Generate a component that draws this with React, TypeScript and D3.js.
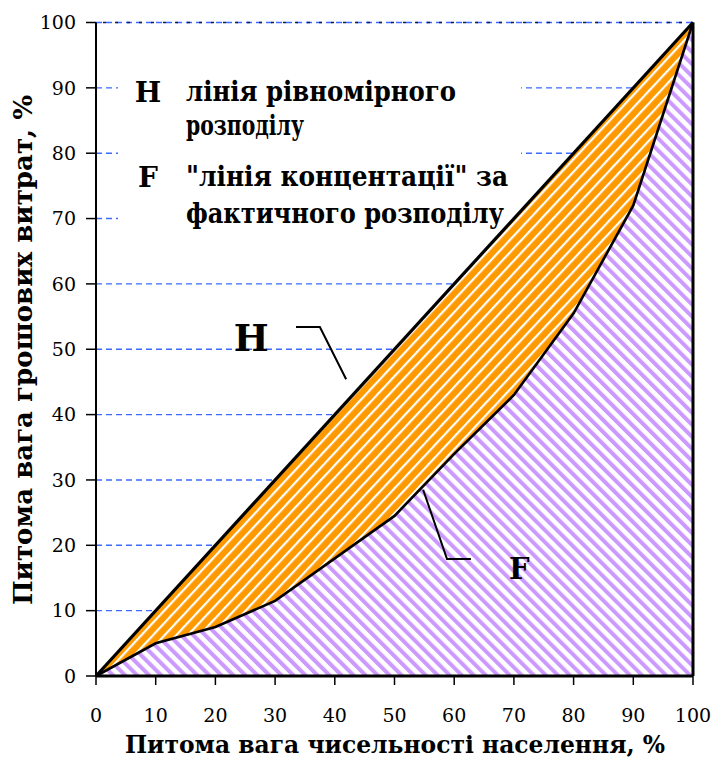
import React from 'react';
import * as d3 from 'd3';

const xTicks = [0, 10, 20, 30, 40, 50, 60, 70, 80, 90, 100];
const yTicks = [0, 10, 20, 30, 40, 50, 60, 70, 80, 90, 100];
const popShare = [0, 10, 20, 30, 40, 50, 60, 70, 80, 90, 100];
const spendShare = [0, 5, 7.5, 11.5, 18, 24.5, 34, 43, 55.5, 72, 100];
const equalX = [0, 100];
const equalY = [0, 100];
const hCallout: [number, number][] = [[33.5, 53.4], [37.5, 53.4], [41.9, 45.4]];
const fCallout: [number, number][] = [[54.8, 28.5], [58.8, 17.9], [62.8, 17.9]];
const hLabelPos: [number, number] = [26, 49.8];
const fLabelPos: [number, number] = [70.9, 14.9];
const legendKeys = ['H', 'F'];
const legendLines = [
  ['лінія рівномірного', 'розподілу'],
  ['"лінія концентації" за', 'фактичного розподілу'],
];
const xTitle = 'Питома вага чисельності населення, %';
const yTitle = 'Питома вага грошових витрат, %';

const W = 713;
const H = 760;
const FONT = '"DejaVu Serif", "Liberation Serif", serif';

export default function App() {
  const x = d3.scaleLinear().domain([0, 100]).range([96, 693]);
  const y = d3.scaleLinear().domain([0, 100]).range([676, 22.5]);

  const fPts: [number, number][] = popShare.map((p, i) => [p, spendShare[i]]);
  const hPts: [number, number][] = equalX.map((p, i) => [p, equalY[i]]);
  const line = d3.line<[number, number]>().x(d => x(d[0])).y(d => y(d[1]));

  const purplePoly: [number, number][] = [...fPts, [100, 0]];
  const orangePoly: [number, number][] = [...hPts, ...fPts.slice().reverse()];

  const legendRows = [
    { key: 0, sub: 0, base: 101, width: 270 },
    { key: 0, sub: 1, base: 135, width: 118 },
    { key: 1, sub: 0, base: 186, width: 322 },
    { key: 1, sub: 1, base: 223, width: 318 },
  ];

  return (
    <svg width={W} height={H} style={{ position: 'absolute', left: 0, top: 0, background: '#fff' }}>
      <defs>
        <pattern id="orangeHatch" patternUnits="userSpaceOnUse" width={8.5} height={8.5} patternTransform="rotate(43)">
          <rect x={0} y={0} width={8.5} height={8.5} fill="#FF9900" />
          <rect x={0} y={0} width={2.2} height={8.5} fill="#ffffff" />
        </pattern>
        <pattern id="purpleHatch" patternUnits="userSpaceOnUse" width={8.5} height={8.5} patternTransform="rotate(-45)">
          <rect x={0} y={0} width={8.5} height={8.5} fill="#ffffff" />
          <rect x={0} y={0} width={4} height={8.5} fill="#CC99FF" />
        </pattern>
      </defs>

      {/* gridlines */}
      {yTicks.map(t => (
        <line key={'g' + t} x1={x(0)} x2={x(100)} y1={y(t)} y2={y(t)}
          stroke="#3d6bff" strokeWidth={1.4} strokeDasharray="6,4" />
      ))}
      <line x1={x(0)} x2={x(100)} y1={y(100)} y2={y(100)} stroke="#1a1a40" strokeWidth={1.6}
        strokeDasharray="3,9" strokeDashoffset={-7} />

      {/* legend background */}
      <rect x={118} y={60} width={403} height={176} fill="#fff" />

      {/* areas */}
      <path d={line(purplePoly) + 'Z'} fill="url(#purpleHatch)" />
      <path d={line(orangePoly) + 'Z'} fill="url(#orangeHatch)" />

      {/* curves */}
      <path d={line(fPts) || ''} fill="none" stroke="#000" strokeWidth={2.6} />
      <path d={line(hPts) || ''} fill="none" stroke="#000" strokeWidth={3.2} />
      <line x1={x(100)} x2={x(100)} y1={y(0)} y2={y(100)} stroke="#000" strokeWidth={3} />

      {/* axes */}
      <line x1={x(0)} x2={x(0)} y1={y(0)} y2={y(100)} stroke="#000" strokeWidth={2} />
      <line x1={x(0)} x2={x(100)} y1={y(0)} y2={y(0)} stroke="#000" strokeWidth={3} />
      {yTicks.map(t => (
        <g key={'yt' + t}>
          <line x1={x(0) - 10} x2={x(0)} y1={y(t)} y2={y(t)} stroke="#000" strokeWidth={1.5} />
          <text x={76} y={y(t)} dy="0.36em" textAnchor="end" fontFamily={FONT} fontSize={19} fill="#000">{t}</text>
        </g>
      ))}
      {xTicks.map(t => (
        <g key={'xt' + t}>
          <line x1={x(t)} x2={x(t)} y1={y(0)} y2={y(0) + 9} stroke="#000" strokeWidth={1.5} />
          <text x={x(t)} y={722} textAnchor="middle" fontFamily={FONT} fontSize={19} fill="#000">{t}</text>
        </g>
      ))}

      {/* axis titles */}
      <text x={395} y={753} textAnchor="middle" fontFamily={FONT} fontWeight="bold" fontSize={25}
        textLength={540} lengthAdjust="spacingAndGlyphs" fill="#000">{xTitle}</text>
      <text transform={`translate(32,350) rotate(-90)`} textAnchor="middle" fontFamily={FONT} fontWeight="bold"
        fontSize={26} textLength={510} lengthAdjust="spacingAndGlyphs" fill="#000">{yTitle}</text>

      {/* legend */}
      {legendKeys.map((k, i) => (
        <text key={'lk' + k} x={148} y={legendRows[i * 2].base + 1} textAnchor="middle"
          fontFamily={FONT} fontWeight="bold" fontSize={28} fill="#000">{k}</text>
      ))}
      {legendRows.map((r, i) => (
        <text key={'lr' + i} x={186} y={r.base} fontFamily={FONT} fontWeight="bold" fontSize={27}
          textLength={r.width} lengthAdjust="spacingAndGlyphs" fill="#000">{legendLines[r.key][r.sub]}</text>
      ))}

      {/* callouts */}
      <path d={line(hCallout) || ''} fill="none" stroke="#000" strokeWidth={2} />
      <path d={line(fCallout) || ''} fill="none" stroke="#000" strokeWidth={2} />
      <text x={x(hLabelPos[0])} y={y(hLabelPos[1])} textAnchor="middle" fontFamily={FONT} fontWeight="bold"
        fontSize={37} fill="#000">H</text>
      <text x={x(fLabelPos[0])} y={y(fLabelPos[1])} textAnchor="middle" fontFamily={FONT} fontWeight="bold"
        fontSize={29} fill="#000">F</text>
    </svg>
  );
}
